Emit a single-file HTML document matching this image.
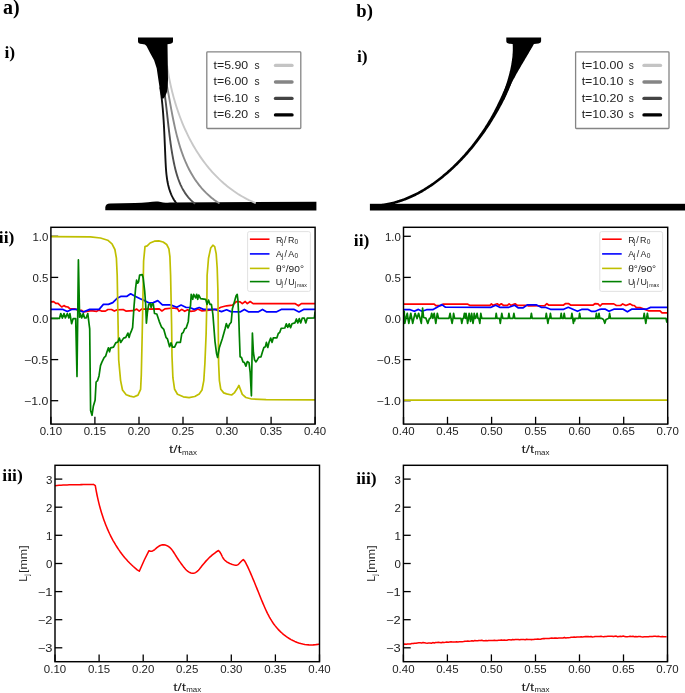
<!DOCTYPE html>
<html><head><meta charset="utf-8"><style>
html,body{margin:0;padding:0;background:#fff;}
body{width:685px;height:693px;overflow:hidden;font-family:"Liberation Sans", sans-serif;}
svg{display:block;will-change:transform;}
</style></head><body>
<svg width="685" height="693" viewBox="0 0 685 693">
<line x1="50.9" y1="424.1" x2="50.9" y2="416.8" stroke="#000" stroke-width="1.3"/>
<text x="50.9" y="435.1" text-anchor="middle" font-family='"Liberation Sans", sans-serif' font-size="10.3" fill="#222" textLength="22.3" lengthAdjust="spacingAndGlyphs">0.10</text>
<line x1="94.9" y1="424.1" x2="94.9" y2="416.8" stroke="#000" stroke-width="1.3"/>
<text x="94.9" y="435.1" text-anchor="middle" font-family='"Liberation Sans", sans-serif' font-size="10.3" fill="#222" textLength="22.3" lengthAdjust="spacingAndGlyphs">0.15</text>
<line x1="139.0" y1="424.1" x2="139.0" y2="416.8" stroke="#000" stroke-width="1.3"/>
<text x="139.0" y="435.1" text-anchor="middle" font-family='"Liberation Sans", sans-serif' font-size="10.3" fill="#222" textLength="22.3" lengthAdjust="spacingAndGlyphs">0.20</text>
<line x1="183.0" y1="424.1" x2="183.0" y2="416.8" stroke="#000" stroke-width="1.3"/>
<text x="183.0" y="435.1" text-anchor="middle" font-family='"Liberation Sans", sans-serif' font-size="10.3" fill="#222" textLength="22.3" lengthAdjust="spacingAndGlyphs">0.25</text>
<line x1="227.0" y1="424.1" x2="227.0" y2="416.8" stroke="#000" stroke-width="1.3"/>
<text x="227.0" y="435.1" text-anchor="middle" font-family='"Liberation Sans", sans-serif' font-size="10.3" fill="#222" textLength="22.3" lengthAdjust="spacingAndGlyphs">0.30</text>
<line x1="271.1" y1="424.1" x2="271.1" y2="416.8" stroke="#000" stroke-width="1.3"/>
<text x="271.1" y="435.1" text-anchor="middle" font-family='"Liberation Sans", sans-serif' font-size="10.3" fill="#222" textLength="22.3" lengthAdjust="spacingAndGlyphs">0.35</text>
<line x1="315.1" y1="424.1" x2="315.1" y2="416.8" stroke="#000" stroke-width="1.3"/>
<text x="315.1" y="435.1" text-anchor="middle" font-family='"Liberation Sans", sans-serif' font-size="10.3" fill="#222" textLength="22.3" lengthAdjust="spacingAndGlyphs">0.40</text>
<line x1="50.9" y1="236.3" x2="58.199999999999996" y2="236.3" stroke="#000" stroke-width="1.3"/>
<text x="48.3" y="240.9" text-anchor="end" font-family='"Liberation Sans", sans-serif' font-size="10.3" fill="#222" textLength="15.9" lengthAdjust="spacingAndGlyphs">1.0</text>
<line x1="50.9" y1="277.4" x2="58.199999999999996" y2="277.4" stroke="#000" stroke-width="1.3"/>
<text x="48.3" y="282.0" text-anchor="end" font-family='"Liberation Sans", sans-serif' font-size="10.3" fill="#222" textLength="15.9" lengthAdjust="spacingAndGlyphs">0.5</text>
<line x1="50.9" y1="318.5" x2="58.199999999999996" y2="318.5" stroke="#000" stroke-width="1.3"/>
<text x="48.3" y="323.1" text-anchor="end" font-family='"Liberation Sans", sans-serif' font-size="10.3" fill="#222" textLength="15.9" lengthAdjust="spacingAndGlyphs">0.0</text>
<line x1="50.9" y1="359.6" x2="58.199999999999996" y2="359.6" stroke="#000" stroke-width="1.3"/>
<text x="48.3" y="364.2" text-anchor="end" font-family='"Liberation Sans", sans-serif' font-size="10.3" fill="#222" textLength="24.3" lengthAdjust="spacingAndGlyphs">−0.5</text>
<line x1="50.9" y1="400.7" x2="58.199999999999996" y2="400.7" stroke="#000" stroke-width="1.3"/>
<text x="48.3" y="405.3" text-anchor="end" font-family='"Liberation Sans", sans-serif' font-size="10.3" fill="#222" textLength="24.3" lengthAdjust="spacingAndGlyphs">−1.0</text>
<line x1="403.5" y1="424.1" x2="403.5" y2="416.8" stroke="#000" stroke-width="1.3"/>
<text x="403.5" y="435.1" text-anchor="middle" font-family='"Liberation Sans", sans-serif' font-size="10.3" fill="#222" textLength="22.3" lengthAdjust="spacingAndGlyphs">0.40</text>
<line x1="447.5" y1="424.1" x2="447.5" y2="416.8" stroke="#000" stroke-width="1.3"/>
<text x="447.5" y="435.1" text-anchor="middle" font-family='"Liberation Sans", sans-serif' font-size="10.3" fill="#222" textLength="22.3" lengthAdjust="spacingAndGlyphs">0.45</text>
<line x1="491.6" y1="424.1" x2="491.6" y2="416.8" stroke="#000" stroke-width="1.3"/>
<text x="491.6" y="435.1" text-anchor="middle" font-family='"Liberation Sans", sans-serif' font-size="10.3" fill="#222" textLength="22.3" lengthAdjust="spacingAndGlyphs">0.50</text>
<line x1="535.6" y1="424.1" x2="535.6" y2="416.8" stroke="#000" stroke-width="1.3"/>
<text x="535.6" y="435.1" text-anchor="middle" font-family='"Liberation Sans", sans-serif' font-size="10.3" fill="#222" textLength="22.3" lengthAdjust="spacingAndGlyphs">0.55</text>
<line x1="579.6" y1="424.1" x2="579.6" y2="416.8" stroke="#000" stroke-width="1.3"/>
<text x="579.6" y="435.1" text-anchor="middle" font-family='"Liberation Sans", sans-serif' font-size="10.3" fill="#222" textLength="22.3" lengthAdjust="spacingAndGlyphs">0.60</text>
<line x1="623.7" y1="424.1" x2="623.7" y2="416.8" stroke="#000" stroke-width="1.3"/>
<text x="623.7" y="435.1" text-anchor="middle" font-family='"Liberation Sans", sans-serif' font-size="10.3" fill="#222" textLength="22.3" lengthAdjust="spacingAndGlyphs">0.65</text>
<line x1="667.7" y1="424.1" x2="667.7" y2="416.8" stroke="#000" stroke-width="1.3"/>
<text x="667.7" y="435.1" text-anchor="middle" font-family='"Liberation Sans", sans-serif' font-size="10.3" fill="#222" textLength="22.3" lengthAdjust="spacingAndGlyphs">0.70</text>
<line x1="403.5" y1="236.3" x2="410.8" y2="236.3" stroke="#000" stroke-width="1.3"/>
<text x="400.9" y="240.9" text-anchor="end" font-family='"Liberation Sans", sans-serif' font-size="10.3" fill="#222" textLength="15.9" lengthAdjust="spacingAndGlyphs">1.0</text>
<line x1="403.5" y1="277.4" x2="410.8" y2="277.4" stroke="#000" stroke-width="1.3"/>
<text x="400.9" y="282.0" text-anchor="end" font-family='"Liberation Sans", sans-serif' font-size="10.3" fill="#222" textLength="15.9" lengthAdjust="spacingAndGlyphs">0.5</text>
<line x1="403.5" y1="318.5" x2="410.8" y2="318.5" stroke="#000" stroke-width="1.3"/>
<text x="400.9" y="323.1" text-anchor="end" font-family='"Liberation Sans", sans-serif' font-size="10.3" fill="#222" textLength="15.9" lengthAdjust="spacingAndGlyphs">0.0</text>
<line x1="403.5" y1="359.6" x2="410.8" y2="359.6" stroke="#000" stroke-width="1.3"/>
<text x="400.9" y="364.2" text-anchor="end" font-family='"Liberation Sans", sans-serif' font-size="10.3" fill="#222" textLength="24.3" lengthAdjust="spacingAndGlyphs">−0.5</text>
<line x1="403.5" y1="400.7" x2="410.8" y2="400.7" stroke="#000" stroke-width="1.3"/>
<text x="400.9" y="405.3" text-anchor="end" font-family='"Liberation Sans", sans-serif' font-size="10.3" fill="#222" textLength="24.3" lengthAdjust="spacingAndGlyphs">−1.0</text>
<line x1="55.0" y1="661.7" x2="55.0" y2="654.4000000000001" stroke="#000" stroke-width="1.3"/>
<text x="55.0" y="672.7" text-anchor="middle" font-family='"Liberation Sans", sans-serif' font-size="10.3" fill="#222" textLength="22.3" lengthAdjust="spacingAndGlyphs">0.10</text>
<line x1="99.1" y1="661.7" x2="99.1" y2="654.4000000000001" stroke="#000" stroke-width="1.3"/>
<text x="99.1" y="672.7" text-anchor="middle" font-family='"Liberation Sans", sans-serif' font-size="10.3" fill="#222" textLength="22.3" lengthAdjust="spacingAndGlyphs">0.15</text>
<line x1="143.2" y1="661.7" x2="143.2" y2="654.4000000000001" stroke="#000" stroke-width="1.3"/>
<text x="143.2" y="672.7" text-anchor="middle" font-family='"Liberation Sans", sans-serif' font-size="10.3" fill="#222" textLength="22.3" lengthAdjust="spacingAndGlyphs">0.20</text>
<line x1="187.2" y1="661.7" x2="187.2" y2="654.4000000000001" stroke="#000" stroke-width="1.3"/>
<text x="187.2" y="672.7" text-anchor="middle" font-family='"Liberation Sans", sans-serif' font-size="10.3" fill="#222" textLength="22.3" lengthAdjust="spacingAndGlyphs">0.25</text>
<line x1="231.3" y1="661.7" x2="231.3" y2="654.4000000000001" stroke="#000" stroke-width="1.3"/>
<text x="231.3" y="672.7" text-anchor="middle" font-family='"Liberation Sans", sans-serif' font-size="10.3" fill="#222" textLength="22.3" lengthAdjust="spacingAndGlyphs">0.30</text>
<line x1="275.4" y1="661.7" x2="275.4" y2="654.4000000000001" stroke="#000" stroke-width="1.3"/>
<text x="275.4" y="672.7" text-anchor="middle" font-family='"Liberation Sans", sans-serif' font-size="10.3" fill="#222" textLength="22.3" lengthAdjust="spacingAndGlyphs">0.35</text>
<line x1="319.5" y1="661.7" x2="319.5" y2="654.4000000000001" stroke="#000" stroke-width="1.3"/>
<text x="319.5" y="672.7" text-anchor="middle" font-family='"Liberation Sans", sans-serif' font-size="10.3" fill="#222" textLength="22.3" lengthAdjust="spacingAndGlyphs">0.40</text>
<line x1="55.0" y1="479.1" x2="62.3" y2="479.1" stroke="#000" stroke-width="1.3"/>
<text x="52.4" y="483.7" text-anchor="end" font-family='"Liberation Sans", sans-serif' font-size="10.3" fill="#222" textLength="6.4" lengthAdjust="spacingAndGlyphs">3</text>
<line x1="55.0" y1="507.2" x2="62.3" y2="507.2" stroke="#000" stroke-width="1.3"/>
<text x="52.4" y="511.8" text-anchor="end" font-family='"Liberation Sans", sans-serif' font-size="10.3" fill="#222" textLength="6.4" lengthAdjust="spacingAndGlyphs">2</text>
<line x1="55.0" y1="535.3" x2="62.3" y2="535.3" stroke="#000" stroke-width="1.3"/>
<text x="52.4" y="539.9" text-anchor="end" font-family='"Liberation Sans", sans-serif' font-size="10.3" fill="#222" textLength="6.4" lengthAdjust="spacingAndGlyphs">1</text>
<line x1="55.0" y1="563.5" x2="62.3" y2="563.5" stroke="#000" stroke-width="1.3"/>
<text x="52.4" y="568.1" text-anchor="end" font-family='"Liberation Sans", sans-serif' font-size="10.3" fill="#222" textLength="6.4" lengthAdjust="spacingAndGlyphs">0</text>
<line x1="55.0" y1="591.6" x2="62.3" y2="591.6" stroke="#000" stroke-width="1.3"/>
<text x="52.4" y="596.2" text-anchor="end" font-family='"Liberation Sans", sans-serif' font-size="10.3" fill="#222" textLength="14.7" lengthAdjust="spacingAndGlyphs">−1</text>
<line x1="55.0" y1="619.7" x2="62.3" y2="619.7" stroke="#000" stroke-width="1.3"/>
<text x="52.4" y="624.3" text-anchor="end" font-family='"Liberation Sans", sans-serif' font-size="10.3" fill="#222" textLength="14.7" lengthAdjust="spacingAndGlyphs">−2</text>
<line x1="55.0" y1="647.8" x2="62.3" y2="647.8" stroke="#000" stroke-width="1.3"/>
<text x="52.4" y="652.4" text-anchor="end" font-family='"Liberation Sans", sans-serif' font-size="10.3" fill="#222" textLength="14.7" lengthAdjust="spacingAndGlyphs">−3</text>
<line x1="403.4" y1="661.7" x2="403.4" y2="654.4000000000001" stroke="#000" stroke-width="1.3"/>
<text x="403.4" y="672.7" text-anchor="middle" font-family='"Liberation Sans", sans-serif' font-size="10.3" fill="#222" textLength="22.3" lengthAdjust="spacingAndGlyphs">0.40</text>
<line x1="447.4" y1="661.7" x2="447.4" y2="654.4000000000001" stroke="#000" stroke-width="1.3"/>
<text x="447.4" y="672.7" text-anchor="middle" font-family='"Liberation Sans", sans-serif' font-size="10.3" fill="#222" textLength="22.3" lengthAdjust="spacingAndGlyphs">0.45</text>
<line x1="491.4" y1="661.7" x2="491.4" y2="654.4000000000001" stroke="#000" stroke-width="1.3"/>
<text x="491.4" y="672.7" text-anchor="middle" font-family='"Liberation Sans", sans-serif' font-size="10.3" fill="#222" textLength="22.3" lengthAdjust="spacingAndGlyphs">0.50</text>
<line x1="535.5" y1="661.7" x2="535.5" y2="654.4000000000001" stroke="#000" stroke-width="1.3"/>
<text x="535.5" y="672.7" text-anchor="middle" font-family='"Liberation Sans", sans-serif' font-size="10.3" fill="#222" textLength="22.3" lengthAdjust="spacingAndGlyphs">0.55</text>
<line x1="579.5" y1="661.7" x2="579.5" y2="654.4000000000001" stroke="#000" stroke-width="1.3"/>
<text x="579.5" y="672.7" text-anchor="middle" font-family='"Liberation Sans", sans-serif' font-size="10.3" fill="#222" textLength="22.3" lengthAdjust="spacingAndGlyphs">0.60</text>
<line x1="623.5" y1="661.7" x2="623.5" y2="654.4000000000001" stroke="#000" stroke-width="1.3"/>
<text x="623.5" y="672.7" text-anchor="middle" font-family='"Liberation Sans", sans-serif' font-size="10.3" fill="#222" textLength="22.3" lengthAdjust="spacingAndGlyphs">0.65</text>
<line x1="667.5" y1="661.7" x2="667.5" y2="654.4000000000001" stroke="#000" stroke-width="1.3"/>
<text x="667.5" y="672.7" text-anchor="middle" font-family='"Liberation Sans", sans-serif' font-size="10.3" fill="#222" textLength="22.3" lengthAdjust="spacingAndGlyphs">0.70</text>
<line x1="403.4" y1="479.1" x2="410.7" y2="479.1" stroke="#000" stroke-width="1.3"/>
<text x="400.8" y="483.7" text-anchor="end" font-family='"Liberation Sans", sans-serif' font-size="10.3" fill="#222" textLength="6.4" lengthAdjust="spacingAndGlyphs">3</text>
<line x1="403.4" y1="507.2" x2="410.7" y2="507.2" stroke="#000" stroke-width="1.3"/>
<text x="400.8" y="511.8" text-anchor="end" font-family='"Liberation Sans", sans-serif' font-size="10.3" fill="#222" textLength="6.4" lengthAdjust="spacingAndGlyphs">2</text>
<line x1="403.4" y1="535.3" x2="410.7" y2="535.3" stroke="#000" stroke-width="1.3"/>
<text x="400.8" y="539.9" text-anchor="end" font-family='"Liberation Sans", sans-serif' font-size="10.3" fill="#222" textLength="6.4" lengthAdjust="spacingAndGlyphs">1</text>
<line x1="403.4" y1="563.5" x2="410.7" y2="563.5" stroke="#000" stroke-width="1.3"/>
<text x="400.8" y="568.1" text-anchor="end" font-family='"Liberation Sans", sans-serif' font-size="10.3" fill="#222" textLength="6.4" lengthAdjust="spacingAndGlyphs">0</text>
<line x1="403.4" y1="591.6" x2="410.7" y2="591.6" stroke="#000" stroke-width="1.3"/>
<text x="400.8" y="596.2" text-anchor="end" font-family='"Liberation Sans", sans-serif' font-size="10.3" fill="#222" textLength="14.7" lengthAdjust="spacingAndGlyphs">−1</text>
<line x1="403.4" y1="619.7" x2="410.7" y2="619.7" stroke="#000" stroke-width="1.3"/>
<text x="400.8" y="624.3" text-anchor="end" font-family='"Liberation Sans", sans-serif' font-size="10.3" fill="#222" textLength="14.7" lengthAdjust="spacingAndGlyphs">−2</text>
<line x1="403.4" y1="647.8" x2="410.7" y2="647.8" stroke="#000" stroke-width="1.3"/>
<text x="400.8" y="652.4" text-anchor="end" font-family='"Liberation Sans", sans-serif' font-size="10.3" fill="#222" textLength="14.7" lengthAdjust="spacingAndGlyphs">−3</text>
<text x="3.0" y="13.9" font-family='"Liberation Serif", serif' font-weight="bold" font-size="20">a)</text>
<text x="356.3" y="17.2" font-family='"Liberation Serif", serif' font-weight="bold" font-size="18.6">b)</text>
<text x="4.5" y="58.4" font-family='"Liberation Serif", serif' font-weight="bold" font-size="17.5">i)</text>
<text x="357.0" y="61.6" font-family='"Liberation Serif", serif' font-weight="bold" font-size="17.5">i)</text>
<text x="-1.2" y="242.7" font-family='"Liberation Serif", serif' font-weight="bold" font-size="17.5">ii)</text>
<text x="353.8" y="246.0" font-family='"Liberation Serif", serif' font-weight="bold" font-size="17.5">ii)</text>
<text x="2.3" y="480.8" font-family='"Liberation Serif", serif' font-weight="bold" font-size="17.5">iii)</text>
<text x="356.2" y="483.9" font-family='"Liberation Serif", serif' font-weight="bold" font-size="17.5">iii)</text>
<path d="M105.3,210.3 L105.3,207.2 Q105.6,203.5 110,203.4 L135,203.1 Q142,202.6 148,202.2 Q154,201.2 158,201.5 Q161,201.8 163,202.6 Q166,203 170,202.4 L316.4,201.8 L316.4,210.6 Z" fill="#000"/>
<path d="M167.16,66.24 L167.47,68.30 L167.79,70.36 L168.13,72.43 L168.50,74.50 L168.87,76.58 L169.27,78.66 L169.68,80.74 L170.12,82.82 L170.57,84.90 L171.04,86.99 L171.52,89.07 L172.03,91.16 L172.56,93.24 L173.10,95.32 L173.66,97.40 L174.25,99.48 L174.85,101.56 L175.47,103.63 L176.11,105.70 L176.77,107.76 L177.45,109.82 L178.15,111.87 L178.87,113.91 L179.61,115.95 L180.38,117.99 L181.16,120.01 L181.96,122.03 L182.78,124.04 L183.62,126.04 L184.49,128.03 L185.37,130.01 L186.28,131.97 L187.21,133.93 L188.16,135.88 L189.13,137.81 L190.12,139.73 L191.14,141.64 L192.17,143.53 L193.23,145.41 L194.31,147.27 L195.41,149.12 L196.54,150.95 L197.69,152.77 L198.86,154.57 L200.05,156.35 L201.27,158.12 L202.51,159.86 L203.77,161.59 L205.05,163.29 L206.36,164.98 L207.69,166.65 L209.05,168.29 L210.43,169.91 L211.83,171.51 L213.26,173.09 L214.71,174.65 L216.19,176.18 L217.69,177.68 L219.21,179.17 L220.76,180.62 L222.33,182.05 L223.93,183.46 L225.56,184.84 L227.21,186.19 L228.88,187.51 L230.58,188.80 L232.30,190.07 L234.05,191.31 L235.83,192.51 L237.63,193.69 L239.46,194.83 L241.31,195.94 L243.19,197.02 L245.10,198.07 L247.03,199.09 L248.99,200.07 L250.98,201.01 L252.99,201.93 L255.03,202.80" fill="none" stroke="#c8c8c8" stroke-width="1.9" stroke-linecap="round" stroke-linejoin="round"/>
<path d="M165.47,78.38 L165.81,80.02 L166.15,81.67 L166.48,83.33 L166.81,85.00 L167.13,86.68 L167.45,88.37 L167.77,90.06 L168.08,91.77 L168.39,93.48 L168.71,95.20 L169.02,96.93 L169.33,98.66 L169.64,100.40 L169.96,102.15 L170.27,103.89 L170.59,105.65 L170.91,107.40 L171.23,109.16 L171.56,110.93 L171.89,112.69 L172.23,114.46 L172.57,116.22 L172.92,117.99 L173.27,119.76 L173.64,121.53 L174.01,123.30 L174.38,125.06 L174.77,126.83 L175.17,128.59 L175.57,130.35 L175.99,132.10 L176.42,133.86 L176.85,135.61 L177.31,137.35 L177.77,139.09 L178.24,140.82 L178.73,142.55 L179.24,144.27 L179.76,145.98 L180.29,147.69 L180.84,149.39 L181.41,151.07 L181.99,152.75 L182.59,154.42 L183.21,156.08 L183.85,157.73 L184.51,159.37 L185.18,161.00 L185.88,162.62 L186.60,164.22 L187.33,165.81 L188.09,167.38 L188.88,168.95 L189.68,170.49 L190.51,172.03 L191.36,173.54 L192.24,175.04 L193.14,176.53 L194.07,178.00 L195.02,179.45 L196.01,180.88 L197.01,182.29 L198.05,183.69 L199.11,185.06 L200.21,186.42 L201.33,187.76 L202.48,189.07 L203.66,190.36 L204.88,191.64 L206.12,192.89 L207.40,194.11 L208.71,195.31 L210.06,196.49 L211.43,197.65 L212.85,198.78 L214.29,199.88 L215.77,200.96 L217.29,202.02 L218.85,203.04" fill="none" stroke="#8c8c8c" stroke-width="1.9" stroke-linecap="round" stroke-linejoin="round"/>
<path d="M163.30,85.17 L163.55,86.70 L163.79,88.23 L164.03,89.76 L164.26,91.30 L164.49,92.84 L164.70,94.38 L164.92,95.93 L165.13,97.48 L165.33,99.04 L165.53,100.59 L165.73,102.15 L165.92,103.72 L166.11,105.28 L166.29,106.85 L166.47,108.42 L166.65,109.99 L166.83,111.57 L167.01,113.14 L167.19,114.72 L167.36,116.30 L167.54,117.88 L167.71,119.46 L167.89,121.04 L168.07,122.63 L168.24,124.21 L168.42,125.80 L168.60,127.39 L168.79,128.97 L168.97,130.56 L169.16,132.15 L169.35,133.74 L169.55,135.33 L169.75,136.91 L169.95,138.50 L170.16,140.09 L170.38,141.68 L170.59,143.27 L170.82,144.85 L171.05,146.44 L171.29,148.02 L171.53,149.60 L171.78,151.19 L172.04,152.77 L172.31,154.34 L172.59,155.92 L172.87,157.50 L173.17,159.07 L173.47,160.64 L173.78,162.21 L174.11,163.78 L174.44,165.34 L174.80,166.90 L175.16,168.45 L175.55,169.99 L175.95,171.52 L176.37,173.05 L176.81,174.56 L177.27,176.07 L177.76,177.56 L178.27,179.04 L178.81,180.50 L179.37,181.95 L179.96,183.38 L180.58,184.80 L181.24,186.19 L181.92,187.57 L182.64,188.93 L183.40,190.26 L184.19,191.58 L185.02,192.87 L185.89,194.13 L186.80,195.37 L187.75,196.59 L188.75,197.78 L189.78,198.93 L190.87,200.06 L192.00,201.16 L193.18,202.23 L194.41,203.27" fill="none" stroke="#505050" stroke-width="1.9" stroke-linecap="round" stroke-linejoin="round"/>
<path d="M160.36,88.06 L160.57,89.53 L160.78,91.00 L160.98,92.47 L161.17,93.94 L161.36,95.41 L161.54,96.88 L161.71,98.36 L161.88,99.83 L162.03,101.31 L162.19,102.78 L162.34,104.26 L162.48,105.74 L162.61,107.22 L162.75,108.69 L162.87,110.18 L162.99,111.66 L163.11,113.14 L163.22,114.62 L163.33,116.10 L163.43,117.59 L163.53,119.07 L163.63,120.56 L163.72,122.05 L163.81,123.54 L163.90,125.02 L163.98,126.51 L164.06,128.00 L164.14,129.50 L164.21,130.99 L164.29,132.48 L164.36,133.97 L164.43,135.47 L164.50,136.96 L164.56,138.46 L164.63,139.96 L164.69,141.45 L164.76,142.95 L164.82,144.45 L164.88,145.95 L164.95,147.45 L165.01,148.95 L165.07,150.46 L165.13,151.96 L165.20,153.46 L165.26,154.97 L165.33,156.48 L165.39,157.98 L165.46,159.49 L165.53,161.00 L165.60,162.51 L165.68,164.01 L165.76,165.52 L165.85,167.03 L165.95,168.53 L166.06,170.03 L166.18,171.52 L166.32,173.01 L166.47,174.50 L166.64,175.97 L166.83,177.45 L167.04,178.91 L167.27,180.36 L167.52,181.81 L167.81,183.24 L168.11,184.67 L168.45,186.08 L168.82,187.48 L169.22,188.87 L169.66,190.24 L170.13,191.60 L170.63,192.95 L171.18,194.28 L171.77,195.59 L172.39,196.88 L173.07,198.16 L173.79,199.41 L174.55,200.65 L175.36,201.87 L176.23,203.06" fill="none" stroke="#111111" stroke-width="1.9" stroke-linecap="round" stroke-linejoin="round"/>
<path d="M138,37.4 L173,37.4 L173,41.5 Q173,43.6 170.5,43.8 L167.5,44.2 L167.8,65 L168,80 L167.6,88 L166.8,92.5 L165.2,96 L163.5,98.5 L161.6,98.5 L160.9,95 L160.4,91 L159.7,88.5 L158.2,78.4 L156.7,68.3 L154.1,60.2 L150.1,53.1 L146.5,46 Q145.5,44.2 142,44 L140,43.8 Q138,43.5 138,41.5 Z" fill="#000"/>
<rect x="206.8" y="51.9" width="94.0" height="76.6" rx="0.8" fill="#fff" stroke="#858585" stroke-width="1.3"/>
<text x="213.6" y="68.8" font-family='"Liberation Sans", sans-serif' font-size="10.2" fill="#222" textLength="34.6" lengthAdjust="spacingAndGlyphs">t=5.90</text>
<text x="254.4" y="68.8" font-family='"Liberation Sans", sans-serif' font-size="10.2" fill="#222">s</text>
<line x1="275.5" y1="65.4" x2="292" y2="65.4" stroke="#c4c4c4" stroke-width="3.4" stroke-linecap="round"/>
<text x="213.6" y="85.4" font-family='"Liberation Sans", sans-serif' font-size="10.2" fill="#222" textLength="34.6" lengthAdjust="spacingAndGlyphs">t=6.00</text>
<text x="254.4" y="85.4" font-family='"Liberation Sans", sans-serif' font-size="10.2" fill="#222">s</text>
<line x1="275.5" y1="82" x2="292" y2="82" stroke="#858585" stroke-width="3.4" stroke-linecap="round"/>
<text x="213.6" y="101.8" font-family='"Liberation Sans", sans-serif' font-size="10.2" fill="#222" textLength="34.6" lengthAdjust="spacingAndGlyphs">t=6.10</text>
<text x="254.4" y="101.8" font-family='"Liberation Sans", sans-serif' font-size="10.2" fill="#222">s</text>
<line x1="275.5" y1="98.4" x2="292" y2="98.4" stroke="#444444" stroke-width="3.4" stroke-linecap="round"/>
<text x="213.6" y="118.3" font-family='"Liberation Sans", sans-serif' font-size="10.2" fill="#222" textLength="34.6" lengthAdjust="spacingAndGlyphs">t=6.20</text>
<text x="254.4" y="118.3" font-family='"Liberation Sans", sans-serif' font-size="10.2" fill="#222">s</text>
<line x1="275.5" y1="114.9" x2="292" y2="114.9" stroke="#000000" stroke-width="3.4" stroke-linecap="round"/>
<rect x="369.9" y="203.8" width="316" height="6.7" fill="#000"/>
<polygon points="512.6,43.0 512.7,44.0 512.7,45.0 512.8,46.0 512.8,46.9 512.8,47.9 512.8,48.9 512.8,49.9 512.8,50.9 512.7,51.9 512.7,52.8 512.6,53.8 512.5,54.8 512.5,55.8 512.4,56.8 512.3,57.7 512.1,58.7 512.0,59.7 511.9,60.7 511.7,61.6 511.6,62.6 511.4,63.6 511.3,64.6 511.1,65.5 510.9,66.5 510.7,67.5 510.5,68.4 510.3,69.4 510.1,70.4 509.8,71.3 509.6,72.3 509.4,73.2 509.1,74.2 508.9,75.2 508.6,76.1 508.4,77.1 508.1,78.0 507.8,79.0 507.5,79.9 507.3,80.9 507.0,81.8 506.7,82.8 506.4,83.7 506.1,84.7 505.8,85.6 505.5,86.5 505.2,87.5 504.8,88.4 504.5,89.4 504.2,90.3 503.9,91.2 503.6,92.2 503.2,93.1 502.9,94.0 502.6,94.9 502.2,95.9 501.9,96.8 501.6,97.7 501.3,98.6 500.9,99.5 504.3,99.6 504.7,98.6 505.1,97.5 505.5,96.5 505.9,95.5 506.3,94.5 506.8,93.5 507.2,92.5 507.6,91.5 508.1,90.5 508.5,89.5 509.0,88.5 509.4,87.5 509.9,86.6 510.4,85.6 510.9,84.6 511.3,83.6 511.8,82.7 512.3,81.7 512.8,80.7 513.3,79.8 513.8,78.8 514.4,77.9 514.9,76.9 515.4,76.0 515.9,75.0 516.4,74.1 517.0,73.1 517.5,72.2 518.0,71.2 518.6,70.3 519.1,69.3 519.7,68.4 520.2,67.5 520.8,66.5 521.3,65.6 521.9,64.6 522.4,63.7 523.0,62.8 523.5,61.8 524.1,60.9 524.6,60.0 525.2,59.0 525.7,58.1 526.3,57.2 526.8,56.2 527.4,55.3 527.9,54.4 528.5,53.4 529.0,52.5 529.6,51.6 530.1,50.6 530.7,49.7 531.2,48.7 531.8,47.8 532.3,46.9 532.8,45.9 533.4,45.0 533.9,44.0 534.4,43.1" fill="#000"/>
<polygon points="507.7,81.5 507.2,82.6 506.8,83.7 506.3,84.8 505.8,85.9 505.4,87.1 504.9,88.2 504.4,89.3 503.9,90.4 503.4,91.5 502.9,92.6 502.4,93.8 501.9,94.9 501.4,96.0 500.9,97.1 500.4,98.2 499.9,99.3 499.3,100.4 498.8,101.5 498.3,102.6 497.7,103.7 497.2,104.8 496.7,105.9 496.1,107.0 495.6,108.1 495.0,109.2 494.4,110.3 493.9,111.4 493.3,112.5 492.7,113.6 492.1,114.7 491.5,115.7 490.9,116.8 490.3,117.9 489.7,119.0 489.0,120.0 488.4,121.1 487.8,122.1 487.1,123.2 486.5,124.2 485.8,125.3 485.1,126.3 484.5,127.4 483.8,128.4 483.1,129.4 482.4,130.5 481.7,131.5 481.1,132.5 480.3,133.5 479.6,134.6 478.9,135.6 478.2,136.6 477.5,137.6 476.8,138.6 476.0,139.6 475.3,140.6 474.5,141.6 473.8,142.5 473.0,143.5 472.2,144.5 471.5,145.5 470.7,146.4 469.9,147.4 469.1,148.3 468.3,149.3 467.5,150.2 466.7,151.2 465.9,152.1 465.1,153.0 464.3,154.0 463.5,154.9 462.6,155.8 461.8,156.7 461.0,157.6 460.1,158.5 459.3,159.4 458.4,160.3 457.5,161.2 456.7,162.1 455.8,163.0 454.9,163.8 454.0,164.7 453.2,165.6 452.3,166.4 451.4,167.3 450.5,168.1 449.6,168.9 448.6,169.8 447.7,170.6 446.8,171.4 445.9,172.2 444.9,173.0 444.0,173.8 443.0,174.6 442.1,175.4 441.1,176.2 440.2,177.0 439.2,177.7 438.2,178.5 437.3,179.2 436.3,180.0 435.3,180.7 434.3,181.4 433.3,182.2 432.3,182.9 431.3,183.6 430.3,184.3 429.3,184.9 428.3,185.6 427.2,186.3 426.2,186.9 425.2,187.6 424.1,188.2 423.1,188.9 422.0,189.5 421.0,190.1 419.9,190.7 418.8,191.3 417.8,191.9 416.7,192.4 415.6,193.0 414.5,193.5 413.4,194.1 412.3,194.6 411.2,195.1 410.1,195.6 409.0,196.1 407.9,196.6 406.7,197.1 405.6,197.5 404.5,198.0 403.3,198.4 402.2,198.8 401.0,199.2 399.8,199.6 398.7,200.0 397.5,200.3 396.3,200.7 395.2,201.0 394.0,201.4 392.8,201.7 391.6,202.0 390.4,202.3 389.2,202.5 387.9,202.8 386.7,203.0 385.5,203.2 384.3,203.5 383.0,203.7 381.8,203.8 382.1,206.4 383.4,206.2 384.7,206.0 385.9,205.8 387.2,205.6 388.5,205.3 389.7,205.1 390.9,204.8 392.2,204.5 393.4,204.2 394.6,203.9 395.9,203.5 397.1,203.2 398.3,202.8 399.5,202.5 400.7,202.1 401.9,201.7 403.0,201.2 404.2,200.8 405.4,200.4 406.5,199.9 407.7,199.5 408.9,199.0 410.0,198.5 411.2,198.0 412.3,197.5 413.4,197.0 414.5,196.4 415.7,195.9 416.8,195.3 417.9,194.7 419.0,194.2 420.1,193.6 421.2,193.0 422.3,192.4 423.3,191.7 424.4,191.1 425.5,190.5 426.5,189.8 427.6,189.1 428.6,188.5 429.7,187.8 430.7,187.1 431.8,186.4 432.8,185.7 433.8,185.0 434.8,184.3 435.8,183.5 436.8,182.8 437.8,182.1 438.8,181.3 439.8,180.5 440.8,179.8 441.8,179.0 442.8,178.2 443.7,177.4 444.7,176.6 445.7,175.8 446.6,175.0 447.6,174.2 448.5,173.4 449.5,172.5 450.4,171.7 451.3,170.9 452.2,170.0 453.2,169.2 454.1,168.3 455.0,167.5 455.9,166.6 456.8,165.7 457.7,164.9 458.6,164.0 459.5,163.1 460.3,162.2 461.2,161.3 462.1,160.4 462.9,159.5 463.8,158.6 464.6,157.7 465.5,156.7 466.3,155.8 467.2,154.9 468.0,153.9 468.8,153.0 469.6,152.0 470.5,151.1 471.3,150.1 472.1,149.2 472.9,148.2 473.7,147.2 474.5,146.3 475.2,145.3 476.0,144.3 476.8,143.3 477.6,142.3 478.3,141.3 479.1,140.3 479.8,139.3 480.6,138.3 481.3,137.3 482.1,136.3 482.8,135.3 483.5,134.3 484.3,133.2 485.0,132.2 485.7,131.2 486.4,130.1 487.1,129.1 487.8,128.1 488.5,127.0 489.2,126.0 489.9,124.9 490.5,123.9 491.2,122.8 491.9,121.7 492.5,120.7 493.2,119.6 493.8,118.5 494.5,117.5 495.1,116.4 495.8,115.3 496.4,114.3 497.0,113.2 497.7,112.1 498.3,111.0 498.9,109.9 499.5,108.8 500.1,107.7 500.7,106.6 501.3,105.5 501.9,104.4 502.5,103.3 503.0,102.2 503.6,101.1 504.1,100.0 504.7,98.9 505.2,97.8 505.8,96.6 506.3,95.5 506.8,94.4 507.3,93.3 507.8,92.1 508.3,91.0 508.8,89.9 509.3,88.7 509.7,87.6 510.2,86.4 510.7,85.3 511.1,84.1 511.6,83.0" fill="#000"/>
<path d="M506.3,37.4 L541.1,37.4 L541.1,41.3 Q541,43.3 538.5,43.6 L534,44 L512.5,44 L510,43.8 Q506.3,43.6 506.3,41.3 Z" fill="#000"/>
<rect x="575.6" y="51.9" width="93.39999999999998" height="76.6" rx="0.8" fill="#fff" stroke="#858585" stroke-width="1.3"/>
<text x="581.7" y="68.8" font-family='"Liberation Sans", sans-serif' font-size="10.2" fill="#222" textLength="41.6" lengthAdjust="spacingAndGlyphs">t=10.00</text>
<text x="628.8" y="68.8" font-family='"Liberation Sans", sans-serif' font-size="10.2" fill="#222">s</text>
<line x1="644" y1="65.4" x2="660.5" y2="65.4" stroke="#c4c4c4" stroke-width="3.4" stroke-linecap="round"/>
<text x="581.7" y="85.4" font-family='"Liberation Sans", sans-serif' font-size="10.2" fill="#222" textLength="41.6" lengthAdjust="spacingAndGlyphs">t=10.10</text>
<text x="628.8" y="85.4" font-family='"Liberation Sans", sans-serif' font-size="10.2" fill="#222">s</text>
<line x1="644" y1="82" x2="660.5" y2="82" stroke="#858585" stroke-width="3.4" stroke-linecap="round"/>
<text x="581.7" y="101.8" font-family='"Liberation Sans", sans-serif' font-size="10.2" fill="#222" textLength="41.6" lengthAdjust="spacingAndGlyphs">t=10.20</text>
<text x="628.8" y="101.8" font-family='"Liberation Sans", sans-serif' font-size="10.2" fill="#222">s</text>
<line x1="644" y1="98.4" x2="660.5" y2="98.4" stroke="#444444" stroke-width="3.4" stroke-linecap="round"/>
<text x="581.7" y="118.3" font-family='"Liberation Sans", sans-serif' font-size="10.2" fill="#222" textLength="41.6" lengthAdjust="spacingAndGlyphs">t=10.30</text>
<text x="628.8" y="118.3" font-family='"Liberation Sans", sans-serif' font-size="10.2" fill="#222">s</text>
<line x1="644" y1="114.9" x2="660.5" y2="114.9" stroke="#000000" stroke-width="3.4" stroke-linecap="round"/>
<defs><clipPath id="ca"><rect x="50.9" y="227.3" width="264.20000000000005" height="196.8"/></clipPath><clipPath id="cb"><rect x="403.5" y="227.3" width="264.20000000000005" height="196.8"/></clipPath></defs>
<g clip-path="url(#ca)" fill="none" stroke-width="1.7" stroke-linejoin="round">
<polyline points="50.9,301.9 53.6,301.6 55.8,303.4 58.0,303.4 61.7,307.0 63.9,305.6 65.7,306.7 67.9,307.0 70.1,308.9 75.2,308.9 77.4,310.0 81.4,310.3 83.6,311.8 88.7,311.1 90.9,310.7 96.7,311.4 98.2,310.3 99.8,310.3 101.4,311.1 105.4,311.1 107.9,309.5 111.5,309.5 114.3,311.1 116.7,309.9 123.1,309.5 125.9,311.1 132.8,310.7 136.8,309.1 139.2,311.1 141.6,309.1 159.3,308.9 161.9,311.0 164.9,308.9 173.2,308.0 177.5,308.7 179.0,311.3 181.8,309.4 184.7,311.3 187.6,309.8 190.5,311.3 194.8,310.9 197.7,309.0 202.0,310.9 216.5,309.4 220.8,307.3 226.6,305.8 232.4,305.1 236.5,301.5 240.1,301.8 242.3,303.6 245.2,301.5 247.3,303.6 250.2,301.5 253.1,303.6 294.9,303.6 298.5,305.8 301.4,303.6 315.1,303.6" stroke="#ff0000"/>
<polyline points="50.9,309.4 63.0,309.4 67.3,311.6 71.6,309.4 76.7,309.4 83.2,312.0 89.7,309.4 99.1,309.4 103.4,304.4 108.4,304.4 112.8,302.6 117.1,298.3 120.7,296.4 127.0,296.3 130.6,293.8 135.1,296.3 140.2,298.8 145.2,300.9 149.2,302.9 153.3,302.6 157.8,300.6 162.4,304.9 170.5,304.9 176.8,307.3 181.1,305.1 186.2,307.5 189.8,307.5 194.1,309.4 199.2,307.5 203.5,309.4 215.0,309.4 221.5,311.6 226.6,309.8 230.9,311.6 240.1,311.9 244.4,309.4 248.8,311.9 258.1,311.9 262.5,309.4 266.8,311.9 276.2,311.9 281.2,309.4 294.2,309.4 299.0,311.9 303.6,309.4 315.1,309.4" stroke="#0000ff"/>
<polyline points="50.9,236.6 90.4,236.8 100.5,238.0 107.7,240.2 112.0,243.8 114.9,249.5 116.4,258.2 117.2,275.5 118.1,325.0 118.7,360.0 120.6,380.6 122.5,390.0 126.2,394.7 130.0,396.1 133.7,397.0 138.0,395.1 140.6,389.4 141.3,374.9 142.1,338.9 142.9,300.0 143.6,261.0 145.0,246.6 147.2,245.9 150.1,243.0 154.4,241.2 158.8,240.9 163.1,242.0 166.7,244.5 168.9,248.8 169.9,256.7 170.6,275.5 171.6,325.0 172.0,356.1 172.9,377.7 174.6,389.3 177.5,394.3 183.3,396.8 189.1,397.6 194.8,396.5 199.2,393.9 202.0,390.0 203.8,380.6 204.9,363.3 206.1,334.4 206.9,300.0 207.1,275.5 208.5,258.2 210.7,248.1 212.9,245.2 214.7,246.6 216.2,253.9 217.2,268.3 217.9,289.9 218.6,363.3 219.4,380.6 220.8,389.3 223.7,392.9 226.6,393.9 231.6,395.0 234.3,392.9 237.2,388.6 238.9,385.4 240.1,388.6 242.3,394.4 245.9,397.5 251.6,399.0 266.1,399.7 315.1,399.8" stroke="#bfbf00"/>
<polyline points="50.9,318.4 59.4,318.4 60.8,313.6 62.3,318.1 64.0,313.6 65.4,318.0 67.3,313.6 68.8,318.0 69.9,313.6 71.6,323.7 73.1,318.7 75.7,318.7 77.0,376.6 78.4,259.9 79.6,317.2 80.3,313.6 81.7,318.0 83.2,313.6 84.6,318.0 86.1,318.0 87.8,313.6 89.7,328.8 90.6,410.6 92.0,415.3 93.4,405.9 95.1,400.3 96.1,382.0 97.6,380.6 99.0,375.9 100.5,365.6 101.9,362.1 104.1,357.6 105.6,356.2 107.0,351.8 108.4,347.8 109.5,351.8 110.6,347.8 113.5,347.2 115.7,342.9 117.8,342.0 119.3,338.1 120.7,342.5 123.6,338.1 125.8,337.4 127.9,333.1 129.1,337.4 130.1,333.8 131.1,331.7 132.6,327.6 134.1,305.4 135.6,288.2 136.6,280.2 137.6,283.2 138.6,281.7 139.6,275.1 142.2,274.6 143.2,278.1 144.7,291.3 145.7,305.4 146.4,323.1 147.4,312.5 148.7,304.4 150.1,303.4 151.1,307.4 152.1,303.9 153.3,303.9 154.5,313.5 156.8,314.0 159.3,321.6 161.6,327.2 163.8,329.4 166.0,337.3 167.4,338.8 169.6,346.7 171.0,342.8 172.5,347.1 174.6,347.1 176.8,342.4 180.4,342.4 181.8,333.7 183.3,332.3 184.7,328.7 186.2,327.9 188.3,321.4 189.1,311.6 190.5,305.8 191.2,294.3 192.7,299.3 193.7,294.3 195.6,297.9 196.7,294.3 197.7,299.3 198.7,295.0 200.6,298.6 205.7,299.3 207.1,304.4 208.5,300.0 210.0,304.4 211.4,304.4 212.9,314.5 215.0,341.6 216.5,353.2 217.6,357.5 219.4,347.4 222.3,338.8 225.1,328.7 226.3,323.6 228.0,327.9 229.5,324.3 231.2,322.2 232.4,308.7 234.5,301.5 236.1,295.7 237.2,294.3 237.9,300.0 238.7,315.0 239.4,336.6 240.1,356.8 241.5,357.6 243.0,361.9 244.4,362.6 245.9,366.2 247.3,361.5 249.0,362.6 250.2,372.7 251.4,395.8 252.4,333.0 253.4,352.5 254.5,359.7 256.0,361.9 257.4,359.7 258.9,357.1 261.0,356.8 262.5,351.8 263.9,347.5 265.4,346.7 266.4,342.4 267.8,347.5 269.0,342.4 270.7,338.1 272.1,342.4 273.3,337.8 276.9,337.8 278.3,333.5 279.8,332.3 281.2,328.3 284.8,328.0 286.3,323.9 287.7,327.3 289.2,323.9 290.6,327.7 292.0,323.7 294.9,322.9 296.4,319.0 297.8,322.9 299.3,318.6 300.7,322.9 302.2,318.2 304.3,318.2 305.8,322.9 307.2,318.2 314.4,317.9 315.1,311.6" stroke="#008000"/>
</g>
<g clip-path="url(#cb)" fill="none" stroke-width="1.7" stroke-linejoin="round">
<polyline points="403.5,304.1 434.2,304.1 435.8,305.6 440.9,305.6 442.9,304.1 467.4,304.1 469.6,305.3 490.0,305.3 491.4,303.8 492.8,305.3 497.2,303.8 499.2,305.3 501.3,303.8 503.3,305.3 507.4,305.3 509.1,303.8 511.0,305.3 515.1,303.8 517.1,305.3 526.3,305.3 528.0,305.8 544.8,305.7 546.9,303.7 548.9,305.2 563.2,305.2 565.3,303.7 568.8,303.7 570.9,305.2 592.8,305.2 594.9,303.7 598.0,303.9 600.1,306.0 602.2,303.9 613.8,303.9 616.4,305.5 620.6,305.5 622.7,303.9 625.9,305.5 630.1,303.9 632.7,305.5 634.3,305.5 636.4,307.6 640.0,307.6 648.5,310.8 660.0,310.8 662.1,312.9 667.7,312.9" stroke="#ff0000"/>
<polyline points="403.5,309.7 410.2,309.7 414.3,311.2 418.4,309.4 422.0,311.2 426.6,309.7 432.7,309.7 441.9,304.6 445.5,307.2 491.1,307.3 495.7,305.2 499.7,307.3 508.9,307.3 514.6,305.2 518.1,307.8 523.2,307.8 527.3,304.9 536.6,304.9 541.2,307.3 545.3,307.3 550.4,309.3 563.7,309.3 568.3,307.3 577.5,311.3 582.1,309.3 587.7,309.3 591.3,311.3 595.4,311.3 600.0,309.3 601.2,309.2 605.4,309.2 609.0,311.3 613.8,309.2 623.2,309.2 627.4,311.8 631.6,309.2 646.3,309.2 650.6,307.4 667.7,307.4" stroke="#0000ff"/>
<polyline points="403.5,400.1 667.7,400.1" stroke="#bfbf00"/>
<polyline points="403.5,318.3 404.2,311.3 404.8,323.4 405.9,318.0 407.3,313.3 408.0,318.5 408.8,323.4 409.8,318.0 410.8,313.3 411.7,318.0 412.7,323.4 413.9,318.0 415.1,313.3 417.1,318.6 418.6,313.3 420.0,318.0 421.3,323.4 422.6,308.1 423.6,317.5 425.9,318.1 427.8,323.4 429.5,318.3 430.6,318.3 431.7,313.3 432.9,318.3 434.2,313.3 435.8,323.4 437.3,313.3 438.5,318.3 449.0,318.3 450.1,313.3 451.0,318.3 452.1,323.4 453.0,318.3 453.6,313.3 454.6,318.3 461.0,318.3 461.8,323.4 462.8,318.3 463.5,318.3 464.4,313.3 465.4,318.3 466.0,313.3 467.0,318.3 467.6,323.4 468.5,318.3 469.1,313.3 470.0,318.3 470.6,321.5 471.6,313.3 472.4,318.3 473.0,323.4 473.8,318.3 474.2,313.3 475.0,318.3 475.7,318.3 477.1,313.3 477.9,318.3 478.8,318.3 479.8,323.4 480.8,313.3 481.8,318.3 495.6,318.3 496.2,313.3 497.0,318.3 499.6,318.3 500.3,323.4 501.0,318.3 501.8,313.3 502.8,318.3 508.2,318.3 508.9,313.3 509.8,318.3 513.0,318.3 513.9,313.3 514.8,318.3 530.6,318.3 531.4,313.3 532.2,318.3 545.6,318.3 546.3,313.3 547.1,318.3 547.9,323.4 548.7,318.3 549.7,318.3 550.4,313.3 551.2,318.3 560.5,318.3 561.2,313.3 562.0,318.3 563.5,318.3 564.2,313.3 565.0,318.3 571.2,318.3 571.9,313.3 572.7,318.3 573.4,323.4 574.1,318.3 574.6,321.0 575.2,318.3 578.9,318.3 579.6,313.3 580.4,318.3 595.7,318.3 596.4,313.3 597.2,318.3 598.4,318.3 599.0,313.3 599.8,318.3 601.5,318.3 603.5,319.5 604.8,323.3 606.0,319.5 608.8,318.3 609.6,313.3 610.4,318.3 643.5,318.3 644.2,313.3 645.0,318.3 645.8,323.4 646.6,318.3 647.4,313.3 648.2,318.3 666.0,318.3 666.8,322.0 667.7,322.5" stroke="#008000"/>
</g>
<text x="168.9" y="452.9" font-family='"Liberation Sans", sans-serif' font-size="10.3" fill="#222" textLength="12.8" lengthAdjust="spacingAndGlyphs">t/t</text>
<text x="181.9" y="454.5" font-family='"Liberation Sans", sans-serif' font-size="7.6" fill="#222" textLength="15.0" lengthAdjust="spacingAndGlyphs">max</text>
<text x="521.5" y="452.9" font-family='"Liberation Sans", sans-serif' font-size="10.3" fill="#222" textLength="12.8" lengthAdjust="spacingAndGlyphs">t/t</text>
<text x="534.5" y="454.5" font-family='"Liberation Sans", sans-serif' font-size="7.6" fill="#222" textLength="15.0" lengthAdjust="spacingAndGlyphs">max</text>
<g fill="none" stroke-width="1.55" stroke-linejoin="round" stroke="#ff0000">
<path d="M55.00,485.70 L57.02,485.51 L59.04,485.35 L61.07,485.21 L63.09,485.09 L65.12,484.99 L67.14,484.91 L69.17,484.84 L71.19,484.78 L73.22,484.74 L75.25,484.70 L77.28,484.68 L79.31,484.65 L81.33,484.63 L83.36,484.60 L85.39,484.58 L87.42,484.54 L89.45,484.51 L91.47,484.46 L93.50,484.40 L95.30,485.60 L95.73,488.11 L96.17,490.56 L96.64,493.02 L97.13,495.48 L97.66,497.94 L98.22,500.41 L98.81,502.87 L99.43,505.33 L100.09,507.78 L100.78,510.23 L101.51,512.67 L102.27,515.10 L103.07,517.52 L103.90,519.93 L104.78,522.32 L105.69,524.70 L106.64,527.06 L107.63,529.40 L108.67,531.72 L109.74,534.02 L110.86,536.29 L112.03,538.54 L113.23,540.77 L114.48,542.96 L115.78,545.13 L117.13,547.26 L118.52,549.36 L119.96,551.42 L121.45,553.45 L122.99,555.44 L124.58,557.39 L126.22,559.30 L127.91,561.17 L129.66,562.99 L131.46,564.77 L133.31,566.50 L135.22,568.18 L137.19,569.81 L139.30,571.20 L144.30,560.00 L149.00,550.70 L150.30,551.28 L151.48,551.25 L152.60,550.90 L153.69,550.30 L154.76,549.52 L155.81,548.63 L156.87,547.70 L157.96,546.82 L159.08,546.05 L160.26,545.45 L161.49,545.06 L162.74,544.87 L163.99,544.87 L165.23,545.05 L166.43,545.40 L167.57,545.92 L168.64,546.59 L169.65,547.39 L170.60,548.30 L171.50,549.31 L172.36,550.39 L173.18,551.53 L173.96,552.71 L174.72,553.89 L175.45,555.08 L176.17,556.24 L176.88,557.37 L177.58,558.46 L178.29,559.52 L179.00,560.57 L179.72,561.61 L180.46,562.65 L181.22,563.69 L182.01,564.76 L182.83,565.86 L183.68,566.98 L184.58,568.10 L185.53,569.19 L186.53,570.22 L187.58,571.14 L188.68,571.94 L189.84,572.57 L191.02,573.02 L192.20,573.27 L193.36,573.29 L194.47,573.06 L195.52,572.61 L196.53,571.96 L197.50,571.15 L198.43,570.22 L199.34,569.18 L200.23,568.09 L201.11,566.96 L201.98,565.84 L202.86,564.75 L203.73,563.68 L204.61,562.64 L205.49,561.63 L206.39,560.64 L207.29,559.68 L208.21,558.74 L209.14,557.82 L210.08,556.93 L211.05,556.06 L212.04,555.21 L213.05,554.37 L214.08,553.56 L215.14,552.77 L216.23,551.99 L217.36,551.23 L218.50,550.50 L219.20,551.20 L219.81,551.96 L220.35,552.77 L220.84,553.61 L221.29,554.48 L221.72,555.36 L222.14,556.25 L222.59,557.12 L223.07,557.96 L223.59,558.77 L224.19,559.53 L224.85,560.23 L225.58,560.89 L226.35,561.49 L227.17,562.05 L228.03,562.56 L228.92,563.03 L229.82,563.46 L230.75,563.84 L231.68,564.18 L232.60,564.49 L233.52,564.76 L234.43,564.99 L235.31,565.18 L236.14,565.27 L236.92,565.17 L237.63,564.84 L238.31,564.33 L238.99,563.70 L239.69,562.99 L240.40,562.24 L241.13,561.49 L241.86,560.78 L242.59,560.14 L243.30,559.60 L244.72,561.14 L245.74,562.96 L246.71,564.81 L247.64,566.68 L248.53,568.57 L249.39,570.48 L250.24,572.40 L251.07,574.32 L251.89,576.25 L252.70,578.19 L253.51,580.13 L254.31,582.07 L255.10,584.01 L255.89,585.96 L256.68,587.91 L257.47,589.87 L258.26,591.83 L259.05,593.78 L259.84,595.75 L260.64,597.71 L261.44,599.67 L262.25,601.64 L263.07,603.61 L263.90,605.57 L264.76,607.52 L265.63,609.47 L266.53,611.39 L267.46,613.31 L268.43,615.19 L269.43,617.06 L270.48,618.89 L271.58,620.70 L272.73,622.46 L273.94,624.19 L275.21,625.88 L276.54,627.52 L277.94,629.10 L279.39,630.64 L280.90,632.11 L282.47,633.53 L284.09,634.88 L285.76,636.16 L287.48,637.37 L289.25,638.51 L291.06,639.56 L292.91,640.54 L294.80,641.42 L296.73,642.22 L298.69,642.92 L300.69,643.52 L302.72,644.02 L304.77,644.42 L306.85,644.71 L308.96,644.88 L311.09,644.94 L313.24,644.88 L315.40,644.70 L317.58,644.39 L319.60,644.00"/>
<polyline points="403.4,644.3 404.8,644.1 406.2,644.3 407.6,643.9 409.0,644.1 410.4,643.9 411.8,643.5 413.2,643.6 414.6,643.2 416.0,643.2 417.4,642.9 418.8,642.7 420.2,642.8 421.6,643.0 423.0,642.6 424.4,642.7 425.8,643.0 427.2,643.2 428.6,643.1 430.0,643.0 431.4,643.3 432.8,642.6 434.2,643.0 435.6,642.5 437.0,642.4 438.4,642.3 439.8,642.4 441.2,642.7 442.6,642.2 444.0,642.4 445.4,642.3 446.8,642.1 448.2,642.2 449.6,641.9 451.0,641.8 452.4,641.9 453.8,642.1 455.2,641.9 456.6,641.8 458.0,641.9 459.4,641.8 460.8,641.7 462.2,641.8 463.6,641.6 465.0,641.2 466.4,641.2 467.8,641.1 469.2,641.2 470.6,641.0 472.0,640.7 473.4,641.1 474.8,640.5 476.2,640.7 477.6,640.8 479.0,640.4 480.4,640.6 481.8,640.3 483.2,640.7 484.6,640.7 486.0,640.6 487.4,640.7 488.8,640.4 490.2,640.6 491.6,640.5 493.0,640.4 494.4,640.3 495.8,640.5 497.2,640.5 498.6,640.2 500.0,640.3 501.4,639.9 502.8,640.2 504.2,640.1 505.6,640.3 507.0,640.2 508.4,639.8 509.8,639.8 511.2,639.9 512.6,639.5 514.0,639.7 515.4,639.5 516.8,639.5 518.2,639.4 519.6,639.8 521.0,639.4 522.4,639.4 523.8,639.5 525.2,639.7 526.6,639.2 528.0,639.4 529.4,639.5 530.8,639.6 532.2,639.6 533.6,639.5 535.0,639.2 536.4,639.2 537.8,639.0 539.2,639.3 540.6,639.2 542.0,638.7 543.4,638.6 544.8,638.6 546.2,638.5 547.6,638.5 549.0,638.5 550.4,638.2 551.8,638.0 553.2,638.2 554.6,638.1 556.0,638.1 557.4,638.3 558.8,638.0 560.2,637.9 561.6,637.9 563.0,637.9 564.4,637.4 565.8,637.9 567.2,637.7 568.6,637.7 570.0,637.6 571.4,637.3 572.8,637.3 574.2,637.1 575.6,637.3 577.0,636.9 578.4,636.9 579.8,636.9 581.2,636.8 582.6,636.9 584.0,636.7 585.4,636.6 586.8,636.6 588.2,636.6 589.6,636.7 591.0,636.4 592.4,636.9 593.8,636.7 595.2,636.4 596.6,636.4 598.0,636.4 599.4,636.4 600.8,636.2 602.2,636.6 603.6,636.7 605.0,636.4 606.4,636.4 607.8,636.2 609.2,636.2 610.6,636.3 612.0,636.3 613.4,636.6 614.8,636.2 616.2,636.1 617.6,636.7 619.0,636.4 620.4,636.2 621.8,636.4 623.2,636.1 624.6,636.4 626.0,636.7 627.4,636.7 628.8,636.6 630.2,636.3 631.6,636.4 633.0,636.3 634.4,636.7 635.8,636.5 637.2,636.7 638.6,636.4 640.0,636.4 641.4,636.8 642.8,636.9 644.2,636.8 645.6,636.8 647.0,636.8 648.4,636.7 649.8,636.4 651.2,636.6 652.6,636.4 654.0,636.2 655.4,636.2 656.8,636.4 658.2,636.3 659.6,636.6 661.0,636.7 662.4,636.4 663.8,636.7 665.2,636.7 666.6,636.7"/>
</g>
<text x="173.2" y="690.7" font-family='"Liberation Sans", sans-serif' font-size="10.3" fill="#222" textLength="12.8" lengthAdjust="spacingAndGlyphs">t/t</text>
<text x="186.2" y="692.3000000000001" font-family='"Liberation Sans", sans-serif' font-size="7.6" fill="#222" textLength="15.0" lengthAdjust="spacingAndGlyphs">max</text>
<text x="521.4" y="690.7" font-family='"Liberation Sans", sans-serif' font-size="10.3" fill="#222" textLength="12.8" lengthAdjust="spacingAndGlyphs">t/t</text>
<text x="534.4" y="692.3000000000001" font-family='"Liberation Sans", sans-serif' font-size="7.6" fill="#222" textLength="15.0" lengthAdjust="spacingAndGlyphs">max</text>
<g transform="translate(26.6,563.4) rotate(-90)"><text x="-18.2" y="0" font-family='"Liberation Sans", sans-serif' font-size="10.3" fill="#222" textLength="5.7" lengthAdjust="spacingAndGlyphs">L</text><text x="-12.4" y="2.2" font-family='"Liberation Sans", sans-serif' font-size="7.2" fill="#222">j</text><text x="-9.6" y="0" font-family='"Liberation Sans", sans-serif' font-size="10.3" fill="#222" textLength="27.6" lengthAdjust="spacingAndGlyphs">[mm]</text></g>
<g transform="translate(375.0,563.4) rotate(-90)"><text x="-18.2" y="0" font-family='"Liberation Sans", sans-serif' font-size="10.3" fill="#222" textLength="5.7" lengthAdjust="spacingAndGlyphs">L</text><text x="-12.4" y="2.2" font-family='"Liberation Sans", sans-serif' font-size="7.2" fill="#222">j</text><text x="-9.6" y="0" font-family='"Liberation Sans", sans-serif' font-size="10.3" fill="#222" textLength="27.6" lengthAdjust="spacingAndGlyphs">[mm]</text></g>
<rect x="50.9" y="227.3" width="264.20000000000005" height="196.8" fill="none" stroke="#000" stroke-width="1.45"/>
<rect x="403.5" y="227.3" width="264.20000000000005" height="196.8" fill="none" stroke="#000" stroke-width="1.45"/>
<rect x="55.0" y="465.3" width="264.5" height="196.40000000000003" fill="none" stroke="#000" stroke-width="1.45"/>
<rect x="403.4" y="465.3" width="264.1" height="196.40000000000003" fill="none" stroke="#000" stroke-width="1.45"/>
<rect x="247.6" y="231.6" width="62.8" height="59.8" rx="1.8" fill="#fff" fill-opacity="0.8" stroke="#dedede" stroke-width="0.9"/>
<line x1="249.9" y1="239.2" x2="269.5" y2="239.2" stroke="#ff0000" stroke-width="1.6"/>
<line x1="249.9" y1="253.9" x2="269.5" y2="253.9" stroke="#0000ff" stroke-width="1.6"/>
<line x1="249.9" y1="268.4" x2="269.5" y2="268.4" stroke="#bfbf00" stroke-width="1.6"/>
<line x1="249.9" y1="281.6" x2="269.5" y2="281.6" stroke="#008000" stroke-width="1.6"/>
<text x="276.00" y="242.50" font-family='"Liberation Sans", sans-serif' fill='#222' font-size="8.9">R</text>
<text x="281.70" y="243.70" font-family='"Liberation Sans", sans-serif' fill='#222' font-size="6.4">j</text>
<text x="284.00" y="242.50" font-family='"Liberation Sans", sans-serif' fill='#222' font-size="8.9">/</text>
<text x="287.90" y="242.50" font-family='"Liberation Sans", sans-serif' fill='#222' font-size="8.9">R</text>
<text x="294.60" y="243.80" font-family='"Liberation Sans", sans-serif' fill='#222' font-size="6.6">0</text>
<text x="276.10" y="256.60" font-family='"Liberation Sans", sans-serif' fill='#222' font-size="8.9">A</text>
<text x="281.70" y="257.80" font-family='"Liberation Sans", sans-serif' fill='#222' font-size="6.4">j</text>
<text x="284.60" y="256.60" font-family='"Liberation Sans", sans-serif' fill='#222' font-size="8.9">/</text>
<text x="288.20" y="256.60" font-family='"Liberation Sans", sans-serif' fill='#222' font-size="8.9">A</text>
<text x="294.60" y="258.20" font-family='"Liberation Sans", sans-serif' fill='#222' font-size="6.6">0</text>
<text x="276.00" y="271.60" font-family='"Liberation Sans", sans-serif' font-size="9.4" fill="#222" textLength="28.0" lengthAdjust="spacingAndGlyphs" >θ°/90°</text>
<text x="275.70" y="284.80" font-family='"Liberation Sans", sans-serif' fill='#222' font-size="8.9">U</text>
<text x="281.60" y="286.00" font-family='"Liberation Sans", sans-serif' fill='#222' font-size="6.4">j</text>
<text x="284.60" y="284.80" font-family='"Liberation Sans", sans-serif' fill='#222' font-size="8.9">/</text>
<text x="288.20" y="284.80" font-family='"Liberation Sans", sans-serif' fill='#222' font-size="8.9">U</text>
<text x="294.70" y="286.00" font-family='"Liberation Sans", sans-serif' fill='#222' font-size="6.4">j</text>
<text x="297.00" y="286.90" font-family='"Liberation Sans", sans-serif' font-size="4.6" fill="#222" textLength="9.8" lengthAdjust="spacingAndGlyphs" >max</text>
<rect x="599.8" y="231.6" width="62.8" height="59.8" rx="1.8" fill="#fff" fill-opacity="0.8" stroke="#dedede" stroke-width="0.9"/>
<line x1="602.0999999999999" y1="239.2" x2="621.6999999999999" y2="239.2" stroke="#ff0000" stroke-width="1.6"/>
<line x1="602.0999999999999" y1="253.9" x2="621.6999999999999" y2="253.9" stroke="#0000ff" stroke-width="1.6"/>
<line x1="602.0999999999999" y1="268.4" x2="621.6999999999999" y2="268.4" stroke="#bfbf00" stroke-width="1.6"/>
<line x1="602.0999999999999" y1="281.6" x2="621.6999999999999" y2="281.6" stroke="#008000" stroke-width="1.6"/>
<text x="628.20" y="242.50" font-family='"Liberation Sans", sans-serif' fill='#222' font-size="8.9">R</text>
<text x="633.90" y="243.70" font-family='"Liberation Sans", sans-serif' fill='#222' font-size="6.4">j</text>
<text x="636.20" y="242.50" font-family='"Liberation Sans", sans-serif' fill='#222' font-size="8.9">/</text>
<text x="640.10" y="242.50" font-family='"Liberation Sans", sans-serif' fill='#222' font-size="8.9">R</text>
<text x="646.80" y="243.80" font-family='"Liberation Sans", sans-serif' fill='#222' font-size="6.6">0</text>
<text x="628.30" y="256.60" font-family='"Liberation Sans", sans-serif' fill='#222' font-size="8.9">A</text>
<text x="633.90" y="257.80" font-family='"Liberation Sans", sans-serif' fill='#222' font-size="6.4">j</text>
<text x="636.80" y="256.60" font-family='"Liberation Sans", sans-serif' fill='#222' font-size="8.9">/</text>
<text x="640.40" y="256.60" font-family='"Liberation Sans", sans-serif' fill='#222' font-size="8.9">A</text>
<text x="646.80" y="258.20" font-family='"Liberation Sans", sans-serif' fill='#222' font-size="6.6">0</text>
<text x="628.20" y="271.60" font-family='"Liberation Sans", sans-serif' font-size="9.4" fill="#222" textLength="28.0" lengthAdjust="spacingAndGlyphs" >θ°/90°</text>
<text x="627.90" y="284.80" font-family='"Liberation Sans", sans-serif' fill='#222' font-size="8.9">U</text>
<text x="633.80" y="286.00" font-family='"Liberation Sans", sans-serif' fill='#222' font-size="6.4">j</text>
<text x="636.80" y="284.80" font-family='"Liberation Sans", sans-serif' fill='#222' font-size="8.9">/</text>
<text x="640.40" y="284.80" font-family='"Liberation Sans", sans-serif' fill='#222' font-size="8.9">U</text>
<text x="646.90" y="286.00" font-family='"Liberation Sans", sans-serif' fill='#222' font-size="6.4">j</text>
<text x="649.20" y="286.90" font-family='"Liberation Sans", sans-serif' font-size="4.6" fill="#222" textLength="9.8" lengthAdjust="spacingAndGlyphs" >max</text>
</svg>
</body></html>
